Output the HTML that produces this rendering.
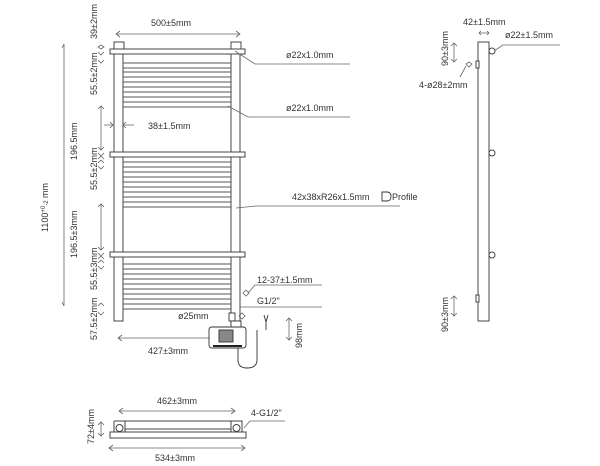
<!DOCTYPE html>
<html><head><style>
html,body{margin:0;padding:0;background:#fff;}
svg{display:block;}
text{font-family:"Liberation Sans",sans-serif;font-size:9px;fill:#333;}
</style></head><body>
<svg width="600" height="466" viewBox="0 0 600 466" xmlns="http://www.w3.org/2000/svg">
<g stroke="#444" stroke-width="1" fill="none">
<rect x="114" y="49" width="9" height="272"/>
<rect x="231" y="49" width="9" height="272"/>
<rect x="114" y="42" width="10" height="8"/>
<rect x="231" y="42" width="10" height="8"/>
<rect x="110" y="49" width="135" height="5" fill="#fff"/>
<rect x="110" y="152" width="135" height="5" fill="#fff"/>
<rect x="110" y="252" width="135" height="5" fill="#fff"/>
</g>
<g stroke="#555" stroke-width="0.9">
<path d="M123 63H231M123 68H231M123 72H231M123 77H231M123 82H231M123 87H231M123 92H231M123 97H231M123 102H231M123 107H231"/>
<path d="M123 162H231M123 167H231M123 172H231M123 177H231M123 182H231M123 187H231M123 192H231M123 197H231M123 202H231M123 207H231"/>
<path d="M123 264H231M123 269H231M123 274H231M123 279H231M123 284H231M123 289H231M123 294H231M123 299H231M123 304H231M123 309H231"/>
</g>
<g stroke="#666" stroke-width="0.8" fill="none">
<path d="M117 34H239M120 31L116 34L120 37M236 31L240 34L236 37"/>
<path d="M64 44V306"/>
<path d="M64 44L62 48M64 306L62 302"/>
<path d="M101 106V150M98 109L101 106L104 109M98 147L101 150L104 147"/>
<path d="M101 204V250M98 207L101 204L104 207M98 247L101 250L104 247"/>
<path d="M104 125H113M110 122L113 125L110 128M123 125H134M126 122L123 125L126 128"/>
<path d="M101 45L98 47L101 49L104 47Z"/>
<path d="M98 52L101 55L104 52M98 60L101 63L104 60"/>
<path d="M98 153L101 156L104 153M98 159L101 156L104 159M98 163L101 160L104 163M98 166L101 169L104 166"/>
<path d="M98 253L101 256L104 253M98 259L101 256L104 259M98 263L101 260L104 263M98 266L101 269L104 266"/>
<path d="M98 306L101 303L104 306M98 312L101 315L104 312"/>
<path d="M118 338H214M122 335L118 338L122 341"/>
<path d="M235 51L255 64H350M228 106L248 117H350M236 208L256 206H400"/>
<path d="M248 293L255 285H322M243 293L246 290L249 293L246 296Z"/>
<path d="M240 307H322"/>
<path d="M239 316L242 313L245 316L242 319Z"/>
<path d="M289 318V340M286 321L289 318L292 321M286 337L289 340L292 337"/>
<path d="M481 31L479 33L481 35M487 31L489 33L487 35M479 33H489"/>
<path d="M454 43V62M451 46L454 43L457 46M451 59L454 62L457 59"/>
<path d="M454 296V316M451 299L454 296L457 299M451 313L454 316L457 313"/>
<path d="M494 51L503 45H560"/>
<path d="M466 66L460 77"/>
<path d="M469 62L466 64L469 67L472 64Z"/>
<path d="M119 411H235M123 408L119 411L123 414M231 408L235 411L231 414"/>
<path d="M109 448H245M113 445L109 448L113 451M241 445L245 448L241 451"/>
<path d="M101 422V436M98 425L101 422L104 425M98 433L101 436L104 433"/>
<path d="M244 428L250 421H285"/>
</g>
<g stroke="#333" stroke-width="0.9" fill="#fff">
<rect x="229" y="313" width="6" height="8"/>
<rect x="231" y="321" width="10" height="10"/>
<path d="M212 327H243Q246 327 246 330V345Q246 348 243 348H212Q209 348 209 345V330Q209 327 212 327Z"/>
<rect x="219" y="330" width="14" height="12" fill="#888"/>
<path d="M213 346H242" stroke="#222" stroke-width="2"/>
<path d="M238 348V360Q238 368 247 368Q257 368 257 360V330M264 315L266 322M268 315L266 322V330" fill="none"/>
</g>
<g stroke="#444" stroke-width="1" fill="#fff">
<rect x="478" y="42" width="11" height="279"/>
<circle cx="492" cy="51" r="3"/>
<circle cx="492" cy="153" r="3"/>
<circle cx="492" cy="255" r="3"/>
<rect x="476" y="61" width="3" height="7"/>
<rect x="476" y="295" width="3" height="7"/>
</g>
<g stroke="#444" stroke-width="1" fill="#fff">
<rect x="110" y="432" width="136" height="6"/>
<rect x="115" y="421" width="127" height="8"/>
<rect x="114" y="421" width="11" height="11" rx="1"/>
<rect x="231" y="421" width="11" height="11" rx="1"/>
<circle cx="119.5" cy="428" r="3.5"/>
<circle cx="236.5" cy="428" r="3.5"/>
</g>
<text x="151" y="26">500±5mm</text>
<text x="148" y="129">38±1.5mm</text>
<text x="286" y="58">ø22x1.0mm</text>
<text x="286" y="111">ø22x1.0mm</text>
<text x="292" y="200">42x38xR26x1.5mm</text>
<path d="M382 192H387Q391 192 391 196.5Q391 201 387 201H382Z" fill="none" stroke="#333" stroke-width="0.9"/>
<text x="392" y="200">Profile</text>
<text x="257" y="283">12-37±1.5mm</text>
<text x="257" y="304">G1/2"</text>
<text x="178" y="319">ø25mm</text>
<text x="148" y="354">427±3mm</text>
<text x="157" y="404">462±3mm</text>
<text x="251" y="416">4-G1/2"</text>
<text x="155" y="461">534±3mm</text>
<text x="463" y="25">42±1.5mm</text>
<text x="505" y="38">ø22±1.5mm</text>
<text x="419" y="88">4-ø28±2mm</text>
<text transform="translate(97,39) rotate(-90)">39±2mm</text>
<text transform="translate(97,95) rotate(-90)">55.5±2mm</text>
<text transform="translate(77,160) rotate(-90)">196.5mm</text>
<text transform="translate(97,190) rotate(-90)">55.5±2mm</text>
<text transform="translate(77,258) rotate(-90)">196.5±3mm</text>
<text transform="translate(97,290) rotate(-90)">55.5±3mm</text>
<text transform="translate(97,340) rotate(-90)">57.5±2mm</text>
<text transform="translate(48,232) rotate(-90)">1100<tspan font-size="6" dy="-3">+0</tspan><tspan font-size="6" dy="3">-2</tspan> mm</text>
<text transform="translate(302,348) rotate(-90)">98mm</text>
<text transform="translate(448,66) rotate(-90)">90±3mm</text>
<text transform="translate(448,332) rotate(-90)">90±3mm</text>
<text transform="translate(94,444) rotate(-90)">72±4mm</text>
</svg>
</body></html>
